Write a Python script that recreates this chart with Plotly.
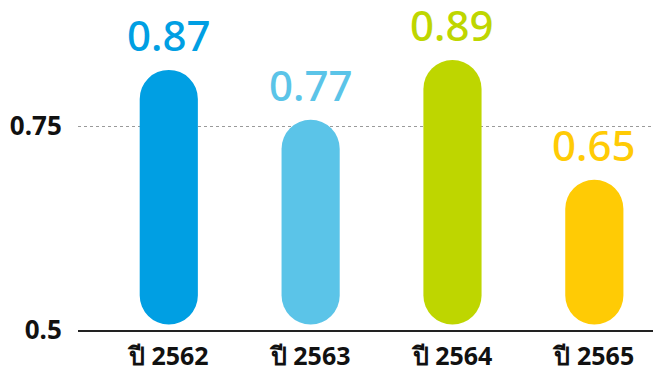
import plotly.graph_objects as go

# data
years = ['ปี 2562', 'ปี 2563', 'ปี 2564', 'ปี 2565']
values = [0.87, 0.77, 0.89, 0.65]
colors = ['#009FE3', '#5BC4E8', '#BED600', '#FFCB05']
y_ticks = [0.5, 0.75]

BAR_BASE = 0.36   # bottom end of the pills on the bar axis

font = 'Noto Sans, DejaVu Sans, sans-serif'

fig = go.Figure()

# the pills: bars with an explicit base, rounded at the ends
fig.add_trace(go.Bar(
    x=years, y=[v - BAR_BASE for v in values], base=[BAR_BASE] * len(values),
    marker=dict(color=colors, cornerradius=29, line_width=0), width=0.41,
    yaxis='y2', showlegend=False, hovertext=[f'{v:.2f}' for v in values], hoverinfo='x+text'
))

# invisible trace so the visible y axis is used
fig.add_trace(go.Scatter(x=years, y=[None] * len(years), showlegend=False, hoverinfo='skip'))

# value labels above the pills
annotations = []
for year, v, c in zip(years, values, colors):
    annotations.append(dict(x=year, y=v, xref='x', yref='y2', text=f'{v:.2f}',
                            showarrow=False, yanchor='bottom', yshift=5,
                            font=dict(family=font, size=42, color=c, weight=500)))

# the page body adds an 8px margin, so the figure is 8px smaller than the window
fig.update_layout(
    width=653, height=363,
    margin=dict(l=70, r=0, t=0, b=41),
    plot_bgcolor='white', paper_bgcolor='white',
    font=dict(family=font, color='#111'),
    annotations=annotations,
    xaxis=dict(
        range=[-0.64, 3.47], showline=True, linecolor='#222', linewidth=2,
        ticks='outside', ticklen=3, tickcolor='rgba(0,0,0,0)', automargin=False,
        tickfont=dict(size=25, family=font, weight='bold', color='#111'),
        showgrid=False,
    ),
    yaxis=dict(
        range=[0.5, 0.8946], tickvals=y_ticks, ticktext=['0.5', '0.75'],
        showgrid=True, gridcolor='#9a9a9a', griddash='dot', gridwidth=1,
        zeroline=False, ticks='outside', ticklen=10, tickcolor='rgba(0,0,0,0)',
        automargin=False,
        tickfont=dict(size=26, family=font, weight='bold', color='#111'),
    ),
    yaxis2=dict(range=[0.349, 0.994], overlaying='y', visible=False),
)

fig.write_html("out.html")
